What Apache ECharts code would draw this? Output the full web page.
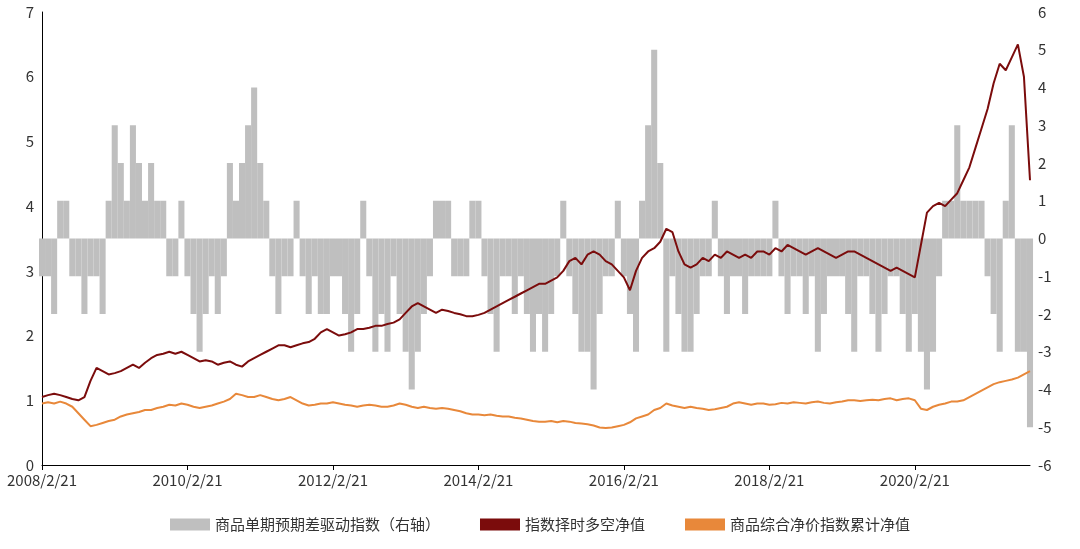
<!DOCTYPE html>
<html>
<head>
<meta charset="utf-8">
<script src="https://cdn.jsdelivr.net/npm/echarts@6/dist/echarts.min.js"></script>
<style>html,body{margin:0;padding:0;background:#fff}#main{width:1080px;height:549px}</style>
</head>
<body>
<div id="main"></div>
<script>
// monthly dates 2008/2/21 .. 2021/9/21
var dates = [];
for (var y = 2008; y <= 2021; y++) {
	for (var m = 1; m <= 12; m++) {
		if (y == 2008 && m < 2) continue;
		if (y == 2021 && m > 9) continue;
		dates.push(y + '/' + m + '/21');
	}
}

// 商品单期预期差驱动指数（右轴）
var signal = [
 -1,-1,-2,1,1,-1,-1,-2,-1,-1,-2,
 1,3,2,1,3,2,1,2,1,1,-1,-1,
 1,-1,-2,-3,-2,-1,-2,-1,2,1,2,3,
 4,2,1,-1,-2,-1,-1,1,-1,-2,-1,-2,
 -2,-1,-1,-2,-3,-2,1,-1,-3,-2,-3,-1,
 -2,-3,-4,-3,-2,-1,1,1,1,-1,-1,-1,
 1,1,-1,-2,-3,-1,-1,-2,-1,-2,-3,-2,
 -3,-2,-1,1,-1,-2,-3,-3,-4,-2,-1,-1,
 1,-1,-2,-3,1,3,5,2,-3,-1,-2,-3,
 -3,-2,-1,-1,1,-1,-2,-1,-1,-2,-1,-1,
 -1,-1,1,-1,-2,-1,-1,-2,-1,-3,-2,-1,
 -1,-1,-2,-3,-1,-1,-2,-3,-2,-1,-1,-2,
 -3,-2,-3,-4,-3,-1,1,1,3,1,1,1,
 1,-1,-2,-3,1,3,-3,-3,-5
];

// 指数择时多空净值
var timing = [
 1.05,1.08,1.1,1.08,1.05,1.02,1.0,1.05,1.3,1.5,1.45,
 1.4,1.42,1.45,1.5,1.55,1.5,1.58,1.65,1.7,1.72,1.75,1.72,
 1.75,1.7,1.65,1.6,1.62,1.6,1.55,1.58,1.6,1.55,1.52,1.6,
 1.65,1.7,1.75,1.8,1.85,1.85,1.82,1.85,1.88,1.9,1.95,2.05,
 2.1,2.05,2.0,2.02,2.05,2.1,2.1,2.12,2.15,2.15,2.18,2.2,
 2.25,2.35,2.45,2.5,2.45,2.4,2.35,2.4,2.38,2.35,2.33,2.3,
 2.3,2.32,2.35,2.4,2.45,2.5,2.55,2.6,2.65,2.7,2.75,2.8,
 2.8,2.85,2.9,3.0,3.15,3.2,3.1,3.25,3.3,3.25,3.15,3.1,
 3.0,2.9,2.7,3.0,3.2,3.3,3.35,3.45,3.65,3.6,3.3,3.1,
 3.05,3.1,3.2,3.15,3.25,3.2,3.3,3.25,3.2,3.25,3.2,3.3,
 3.3,3.25,3.35,3.3,3.4,3.35,3.3,3.25,3.3,3.35,3.3,3.25,
 3.2,3.25,3.3,3.3,3.25,3.2,3.15,3.1,3.05,3.0,3.05,3.0,
 2.95,2.9,3.4,3.9,4.0,4.05,4.0,4.1,4.2,4.4,4.6,4.9,
 5.2,5.5,5.9,6.2,6.1,6.3,6.5,6.0,4.4
];

// 商品综合净价指数累计净值
var commodity = [
 0.95,0.97,0.95,0.98,0.95,0.9,0.8,0.7,0.6,0.62,0.65,
 0.68,0.7,0.75,0.78,0.8,0.82,0.85,0.85,0.88,0.9,0.93,0.92,
 0.95,0.93,0.9,0.88,0.9,0.92,0.95,0.98,1.02,1.1,1.08,1.05,
 1.05,1.08,1.05,1.02,1.0,1.02,1.05,1.0,0.95,0.92,0.93,0.95,
 0.95,0.97,0.95,0.93,0.92,0.9,0.92,0.93,0.92,0.9,0.9,0.92,
 0.95,0.93,0.9,0.88,0.9,0.88,0.87,0.88,0.87,0.85,0.83,0.8,
 0.78,0.78,0.77,0.78,0.76,0.75,0.75,0.73,0.72,0.7,0.68,0.67,
 0.67,0.68,0.66,0.68,0.67,0.65,0.64,0.63,0.61,0.58,0.57,0.58,
 0.6,0.62,0.66,0.72,0.75,0.78,0.85,0.88,0.95,0.92,0.9,0.88,
 0.9,0.88,0.87,0.85,0.86,0.88,0.9,0.95,0.97,0.95,0.93,0.95,
 0.95,0.93,0.94,0.96,0.95,0.97,0.96,0.95,0.97,0.98,0.96,0.95,
 0.97,0.98,1.0,1.0,0.99,1.0,1.01,1.0,1.02,1.03,1.0,1.02,
 1.03,1.0,0.87,0.85,0.9,0.93,0.95,0.98,0.98,1.0,1.05,1.1,
 1.15,1.2,1.25,1.28,1.3,1.32,1.35,1.4,1.45
];

var chart = echarts.init(document.getElementById('main'));
var txt = {color:'#333', fontSize:15, fontFamily:'Noto Sans CJK SC'};
chart.setOption({
	animation:false,
	grid:{left:42, right:50, top:12, bottom:84},
	legend:{
		bottom:12, itemGap:40, itemWidth:40, itemHeight:12,
		textStyle:txt,
		data:[{name:'商品单期预期差驱动指数（右轴）', icon:'rect'},
			{name:'指数择时多空净值', icon:'rect', itemStyle:{}},
			{name:'商品综合净价指数累计净值', icon:'rect'}]
	},
	xAxis:{
		type:'category', data:dates, boundaryGap:false,
		axisLine:{lineStyle:{color:'#000'}},
		axisTick:{interval:23, length:5, lineStyle:{color:'#000'}},
		axisLabel:{interval:23, color:'#333', fontSize:15, fontFamily:'Noto Sans CJK SC', margin:8}
	},
	yAxis:[{
		type:'value', min:0, max:7, interval:1,
		axisLine:{show:true, lineStyle:{color:'#000'}},
		axisTick:{show:false},
		splitLine:{show:false},
		axisLabel:txt
	},{
		type:'value', min:-6, max:6, interval:1,
		axisLine:{show:false}, axisTick:{show:false},
		splitLine:{show:false},
		axisLabel:txt
	}],
	series:[{
		name:'商品单期预期差驱动指数（右轴）', type:'bar', yAxisIndex:1,
		data:signal, barCategoryGap:0, itemStyle:{color:'#BFBFBF'}
	},{
		name:'指数择时多空净值', type:'line', data:timing, symbol:'none',
		lineStyle:{color:'#7B0C0C', width:2}, itemStyle:{color:'#7B0C0C'}
	},{
		name:'商品综合净价指数累计净值', type:'line', data:commodity, symbol:'none',
		lineStyle:{color:'#E8883A', width:2}, itemStyle:{color:'#E8883A'}
	}]
});
</script>
</body>
</html>
